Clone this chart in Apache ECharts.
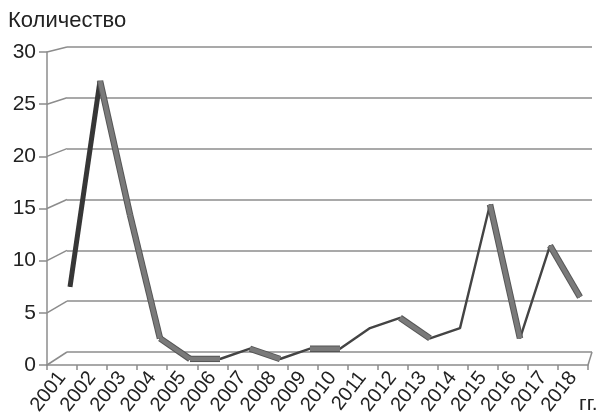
<!DOCTYPE html>
<html>
<head>
<meta charset="utf-8">
<script src="https://cdn.jsdelivr.net/npm/echarts@6/dist/echarts.min.js"></script>
<style>
  html, body { margin: 0; padding: 0; background: #fff; }
  #chart { width: 600px; height: 418px; }
</style>
</head>
<body>
<div id="chart"></div>
<script>
// данные
var years = ['2001','2002','2003','2004','2005','2006','2007','2008','2009',
             '2010','2011','2012','2013','2014','2015','2016','2017','2018'];
var counts = [7, 27, 14, 2, 0, 0, 1, 0, 1, 1, 3, 4, 2, 3, 15, 2, 11, 6];
var yTicks = [0, 5, 10, 15, 20, 25, 30];

var font = "'Liberation Sans', Arial, sans-serif";
var gridColor = '#8c8c8c';

// передняя плоскость (оси), задняя стенка (сетка), середина (лента)
var frontGrid = { left: 47, right: 12, top: 52, bottom: 53 };
var backGrid = { left: 67, right: 8, top: 47, bottom: 66 };
var midGrid = { left: 55, right: 5, top: 50, bottom: 59 };

var myChart = echarts.init(document.getElementById('chart'));

function segData(i) {
  var arr = [];
  for (var k = 0; k < counts.length; k++) {
    arr.push(k === i || k === i + 1 ? counts[k] : null);
  }
  return arr;
}

var series = [{
  type: 'line',
  xAxisIndex: 2,
  yAxisIndex: 2,
  data: counts,
  symbol: 'none',
  z: 3,
  lineStyle: { color: '#444', width: 2.4 }
}];

// объём ленты: нисходящие участки шире и светлее
for (var i = 0; i < counts.length - 1; i++) {
  if (counts[i + 1] <= counts[i]) {
    series.push({
      type: 'line', xAxisIndex: 2, yAxisIndex: 2, data: segData(i),
      symbol: 'none', z: 4, lineStyle: { color: '#555', width: 6.5 }
    });
    series.push({
      type: 'line', xAxisIndex: 2, yAxisIndex: 2, data: segData(i),
      symbol: 'none', z: 5, lineStyle: { color: '#7a7a7a', width: 4.5 }
    });
  } else if (i === 0) {
    series.push({
      type: 'line', xAxisIndex: 2, yAxisIndex: 2, data: segData(i),
      symbol: 'none', z: 4, lineStyle: { color: '#363636', width: 5 }
    });
  }
}

var option = {
  animation: false,
  title: {
    text: 'Количество',
    left: 3, top: 5,
    textStyle: { fontFamily: font, fontSize: 22, fontWeight: 'normal', color: '#222' }
  },
  grid: [
    { left: frontGrid.left, right: frontGrid.right, top: frontGrid.top, bottom: frontGrid.bottom },
    { left: backGrid.left, right: backGrid.right, top: backGrid.top, bottom: backGrid.bottom },
    { left: midGrid.left, right: midGrid.right, top: midGrid.top, bottom: midGrid.bottom }
  ],
  xAxis: [
    {
      gridIndex: 0, type: 'category', data: years, boundaryGap: true,
      axisLine: { lineStyle: { color: gridColor, width: 1.5 } },
      axisTick: { show: true, length: 5, lineStyle: { color: gridColor, width: 1.5 } },
      axisLabel: { rotate: 52, interval: 0, margin: 9, fontFamily: font, fontSize: 20, color: '#222' },
      splitLine: { show: false }
    },
    { gridIndex: 1, type: 'category', data: years, show: false },
    { gridIndex: 2, type: 'category', data: years, show: false }
  ],
  yAxis: [
    {
      gridIndex: 0, type: 'value', min: 0, max: 30, interval: 5,
      axisLine: { show: true, lineStyle: { color: gridColor, width: 1.5 } },
      axisTick: { show: true, length: 8, lineStyle: { color: gridColor, width: 1.5 } },
      axisLabel: { margin: 11, fontFamily: font, fontSize: 21, color: '#222' },
      splitLine: { show: false }
    },
    {
      gridIndex: 1, type: 'value', min: 0, max: 30, interval: 5,
      axisLine: { show: false }, axisTick: { show: false }, axisLabel: { show: false },
      splitLine: { show: true, lineStyle: { color: gridColor, width: 1.5 } }
    },
    { gridIndex: 2, type: 'value', min: 0, max: 30, show: false }
  ],
  series: series
};

myChart.setOption(option);

// косые линии от передней оси к задней стенке
var graphics = [];
for (var t = 0; t < yTicks.length; t++) {
  var yf = myChart.convertToPixel({ yAxisIndex: 0 }, yTicks[t]);
  var yb = myChart.convertToPixel({ yAxisIndex: 1 }, yTicks[t]);
  graphics.push({
    type: 'line', silent: true, z: 1,
    shape: { x1: frontGrid.left, y1: yf, x2: backGrid.left, y2: yb },
    style: { stroke: gridColor, lineWidth: 1.5 }
  });
}
var y0f = myChart.convertToPixel({ yAxisIndex: 0 }, 0);
var y0b = myChart.convertToPixel({ yAxisIndex: 1 }, 0);
graphics.push({
  type: 'line', silent: true, z: 1,
  shape: { x1: 600 - backGrid.right, y1: y0b, x2: 600 - frontGrid.right, y2: y0f },
  style: { stroke: gridColor, lineWidth: 1.5 }
});
graphics.push({
  type: 'text', left: 579, top: 394,
  style: { text: 'гг.', font: '21px ' + font, fill: '#222' }
});
myChart.setOption({ graphic: graphics });
</script>
</body>
</html>
